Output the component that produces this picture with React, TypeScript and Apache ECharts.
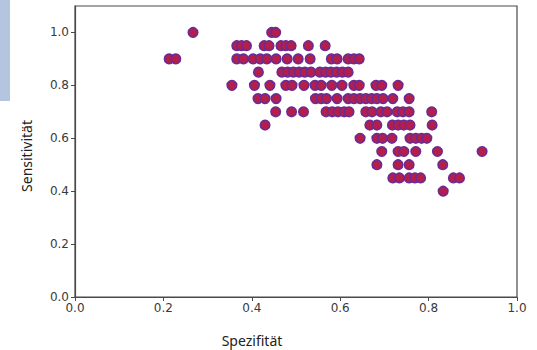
import React, { useEffect, useRef } from "react";
import * as echarts from "echarts";

// Sensitivity levels (y) and the specificity values (x) of the points on each level
const sensLevels = [1.0, 0.95, 0.9, 0.85, 0.8, 0.75, 0.7, 0.65, 0.6, 0.55, 0.5, 0.45, 0.4];

const spez100 = [0.267, 0.445, 0.454];
const spez095 = [0.366, 0.377, 0.388, 0.428, 0.439, 0.466, 0.477, 0.489, 0.528, 0.566];
const spez090 = [0.213, 0.228, 0.366, 0.381, 0.403, 0.419, 0.434, 0.455, 0.48, 0.505, 0.532, 0.58, 0.593, 0.618, 0.631, 0.643];
const spez085 = [0.415, 0.468, 0.481, 0.494, 0.507, 0.52, 0.534, 0.554, 0.567, 0.579, 0.592, 0.605, 0.618];
const spez080 = [0.355, 0.406, 0.441, 0.477, 0.491, 0.518, 0.543, 0.557, 0.581, 0.604, 0.631, 0.643, 0.681, 0.694, 0.731];
const spez075 = [0.414, 0.43, 0.455, 0.544, 0.557, 0.569, 0.593, 0.618, 0.631, 0.645, 0.658, 0.671, 0.683, 0.697, 0.719, 0.756];
const spez070 = [0.454, 0.49, 0.517, 0.568, 0.582, 0.595, 0.609, 0.62, 0.658, 0.672, 0.692, 0.706, 0.729, 0.742, 0.756, 0.807];
const spez065 = [0.43, 0.667, 0.683, 0.718, 0.731, 0.744, 0.758, 0.808];
const spez060 = [0.645, 0.683, 0.696, 0.717, 0.758, 0.771, 0.784, 0.796];
const spez055 = [0.694, 0.731, 0.744, 0.771, 0.82, 0.921];
const spez050 = [0.683, 0.731, 0.756, 0.832];
const spez045 = [0.719, 0.734, 0.756, 0.769, 0.782, 0.856, 0.87];
const spez040 = [0.833];

const spezRows = [spez100, spez095, spez090, spez085, spez080, spez075, spez070, spez065, spez060, spez055, spez050, spez045, spez040];

const tickValues = [0, 0.2, 0.4, 0.6, 0.8, 1.0];
const xTitle = "Spezifität";
const yTitle = "Sensitivität";

export default function App() {
  const ref = useRef<HTMLDivElement>(null);
  useEffect(() => {
    document.body.style.margin = "0";
    if (!ref.current) return;
    const chart = echarts.init(ref.current, undefined, { renderer: "svg" });
    const data: number[][] = [];
    spezRows.forEach((row, i) => row.forEach((x) => data.push([x, sensLevels[i]])));
    const labelStyle = {
      color: "#3a3a3a",
      fontFamily: "DejaVu Sans",
      fontSize: 12,
      formatter: (v: number) => v.toFixed(1),
    };
    chart.setOption({
      animation: false,
      backgroundColor: "#fff",
      grid: {
        left: 75,
        right: 20,
        top: 6,
        bottom: 53,
        show: true,
        borderColor: "#4a4a4a",
        borderWidth: 1.2,
        backgroundColor: "transparent",
      },
      xAxis: {
        type: "value",
        min: 0,
        max: 1,
        interval: 0.2,
        splitLine: { show: false },
        axisLine: { show: true, lineStyle: { color: "#4a4a4a", width: 1.2 } },
        axisTick: { show: true, length: 4, lineStyle: { color: "#4a4a4a" }, customValues: tickValues },
        axisLabel: { ...labelStyle, margin: 5, customValues: tickValues },
      },
      yAxis: {
        type: "value",
        min: 0,
        max: 1.1,
        interval: 0.2,
        splitLine: { show: false },
        axisLine: { show: true, lineStyle: { color: "#4a4a4a", width: 1.2 } },
        axisTick: { show: true, length: 4, lineStyle: { color: "#4a4a4a" }, customValues: tickValues },
        axisLabel: { ...labelStyle, margin: 6, customValues: tickValues },
      },
      graphic: [
        { type: "rect", shape: { x: 0, y: 0, width: 10, height: 101 }, style: { fill: "#b3c5df" } },
        {
          type: "text",
          x: 252,
          y: 340,
          style: { text: xTitle, fill: "#222", font: "14px 'Noto Sans'", align: "center", verticalAlign: "middle" },
        },
        {
          type: "text",
          x: 26,
          y: 156,
          rotation: Math.PI / 2,
          style: { text: yTitle, fill: "#222", font: "14px 'Noto Sans'", align: "center", verticalAlign: "middle" },
        },
      ],
      series: [
        {
          type: "scatter",
          data,
          symbolSize: 9.5,
          itemStyle: { color: "#b51e4a", borderColor: "#6a2c94", borderWidth: 1.6, opacity: 1 },
        },
      ],
    });
    return () => chart.dispose();
  }, []);
  return <div ref={ref} style={{ width: 537, height: 350 }} />;
}
